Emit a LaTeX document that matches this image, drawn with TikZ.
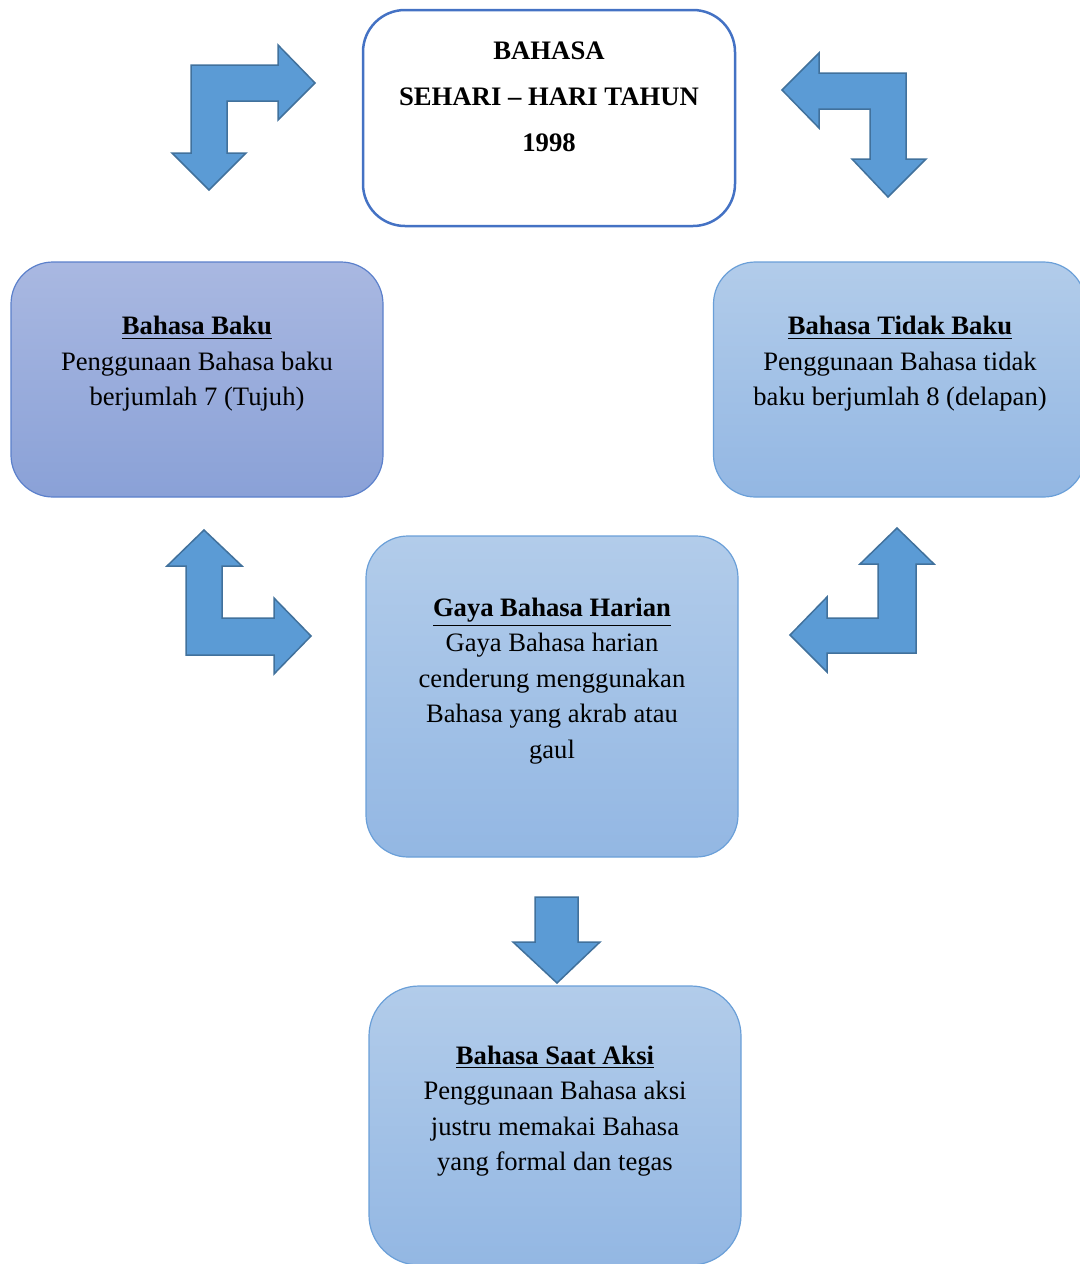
\documentclass[tikz,border=0pt]{standalone}
\usepackage{fontspec}
\setmainfont{Liberation Serif}
\definecolor{arrfill}{HTML}{5B9BD5}
\definecolor{arrdraw}{HTML}{41719C}
\definecolor{topborder}{HTML}{4472C4}
\definecolor{bakutop}{HTML}{A9B8E1}
\definecolor{bakubot}{HTML}{8AA1D7}
\definecolor{bakuline}{HTML}{5B80CB}
\definecolor{lighttop}{HTML}{B2CCEA}
\definecolor{lightbot}{HTML}{93B7E3}
\definecolor{lightline}{HTML}{6A9FD8}
\newcommand{\ulbold}[1]{\textbf{\underline{#1}}}
\begin{document}
\begin{tikzpicture}[x=0.5pt,y=-0.5pt,
  boxbase/.style={rounded corners=21pt, inner sep=0pt, outer sep=0pt, minimum width=186pt},
  topbox/.style={boxbase, draw=topborder, fill=white, line width=1.25pt},
  bakubox/.style={boxbase, draw=bakuline, line width=0.6pt, top color=bakutop, bottom color=bakubot},
  lightbox/.style={boxbase, draw=lightline, line width=0.6pt, top color=lighttop, bottom color=lightbot},
  boxtext/.style={align=center, inner sep=0pt, font=\fontsize{13.3pt}{17.75pt}\selectfont},
  toptext/.style={align=center, inner sep=0pt, font=\fontsize{13.35pt}{23pt}\selectfont\bfseries},
  bentarrow/.style={fill=arrfill, draw=arrdraw, line width=0.75pt, line join=miter}
]
\useasboundingbox (0,0) rectangle (1080,1264);

% boxes
\node[topbox, minimum height=108pt] (top) at (549,118) {};
\node[bakubox, minimum height=117.5pt] (baku) at (197,379.5) {};
\node[lightbox, minimum height=117.5pt] (tidak) at (899.5,379.5) {};
\node[lightbox, minimum height=160.5pt] (gaya) at (552,696.5) {};
\node[lightbox, minimum height=139.5pt, rounded corners=25pt] (aksi) at (555,1125.5) {};

% texts
\node[toptext] (toptxt) at (549,97) {BAHASA\\SEHARI -- HARI TAHUN\\1998};
\node[boxtext] (bakutxt) at (197,364) {\ulbold{Bahasa Baku}\\Penggunaan Bahasa baku\\berjumlah 7 (Tujuh)};
\node[boxtext] (tidaktxt) at (900,364) {\ulbold{Bahasa Tidak Baku}\\Penggunaan Bahasa tidak\\baku berjumlah 8 (delapan)};
\node[boxtext] (gayatxt) at (552,681) {\ulbold{Gaya Bahasa Harian}\\Gaya Bahasa harian\\cenderung menggunakan\\Bahasa yang akrab atau\\gaul};
\node[boxtext] (aksitxt) at (555,1111) {\ulbold{Bahasa Saat Aksi}\\Penggunaan Bahasa aksi\\justru memakai Bahasa\\yang formal dan tegas};

% arrows
\draw[bentarrow] (191,65) -- (278,65) -- (278,45) -- (315,83) -- (278,120) -- (278,101) -- (227,101) -- (227,153) -- (246,153) -- (209,190) -- (172,153) -- (191,153) -- cycle;
\draw[bentarrow] (906,73) -- (819,73) -- (819,53) -- (782,90) -- (819,128) -- (819,109) -- (870,109) -- (870,159) -- (852,159) -- (888,197) -- (926,159) -- (906,159) -- cycle;
\draw[bentarrow] (186,655) -- (186,566) -- (167,566) -- (204,530) -- (242,566) -- (222,566) -- (222,618) -- (274,618) -- (274,598) -- (311,636) -- (274,674) -- (274,655) -- cycle;
\draw[bentarrow] (916,653) -- (916,564) -- (934,564) -- (897,528) -- (860,564) -- (878,564) -- (878,618) -- (827,618) -- (827,597) -- (790,635) -- (827,672) -- (827,653) -- cycle;
\draw[bentarrow] (535,897) -- (578,897) -- (578,942) -- (600,942) -- (557,983) -- (513,942) -- (535,942) -- cycle;
\end{tikzpicture}
\end{document}
